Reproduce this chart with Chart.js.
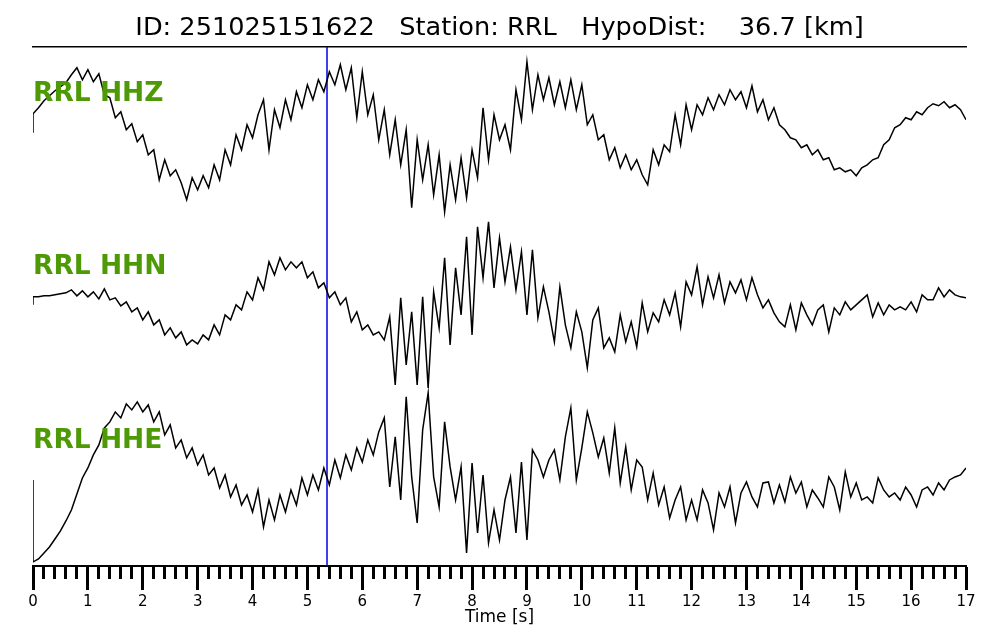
<!DOCTYPE html>
<html>
<head>
<meta charset="utf-8">
<script src="https://cdn.jsdelivr.net/npm/chart.js@4.4.1/dist/chart.umd.min.js"></script>
<style>
  html, body { margin: 0; padding: 0; background: #fff; }
  #wrap { width: 1000px; height: 640px; }
</style>
</head>
<body>
<div id="wrap"><canvas id="seis"></canvas></div>
<script>
// time axis [s], first sample repeated for the step at the trace start
const timeS = [0, 0, 0.1, 0.2, 0.3, 0.4, 0.5, 0.6, 0.7, 0.8, 0.9,
    1.0, 1.1, 1.2, 1.3, 1.4, 1.5, 1.6, 1.7, 1.8, 1.9,
    2.0, 2.1, 2.2, 2.3, 2.4, 2.5, 2.6, 2.7, 2.8, 2.9,
    3.0, 3.1, 3.2, 3.3, 3.4, 3.5, 3.6, 3.7, 3.8, 3.9,
    4.0, 4.1, 4.2, 4.3, 4.4, 4.5, 4.6, 4.7, 4.8, 4.9,
    5.0, 5.1, 5.2, 5.3, 5.4, 5.5, 5.6, 5.7, 5.8, 5.9,
    6.0, 6.1, 6.2, 6.3, 6.4, 6.5, 6.6, 6.7, 6.8, 6.9,
    7.0, 7.1, 7.2, 7.3, 7.4, 7.5, 7.6, 7.7, 7.8, 7.9,
    8.0, 8.1, 8.2, 8.3, 8.4, 8.5, 8.6, 8.7, 8.8, 8.9,
    9.0, 9.1, 9.2, 9.3, 9.4, 9.5, 9.6, 9.7, 9.8, 9.9,
    10.0, 10.1, 10.2, 10.3, 10.4, 10.5, 10.6, 10.7, 10.8, 10.9,
    11.0, 11.1, 11.2, 11.3, 11.4, 11.5, 11.6, 11.7, 11.8, 11.9,
    12.0, 12.1, 12.2, 12.3, 12.4, 12.5, 12.6, 12.7, 12.8, 12.9,
    13.0, 13.1, 13.2, 13.3, 13.4, 13.5, 13.6, 13.7, 13.8, 13.9,
    14.0, 14.1, 14.2, 14.3, 14.4, 14.5, 14.6, 14.7, 14.8, 14.9,
    15.0, 15.1, 15.2, 15.3, 15.4, 15.5, 15.6, 15.7, 15.8, 15.9,
    16.0, 16.1, 16.2, 16.3, 16.4, 16.5, 16.6, 16.7, 16.8, 16.9, 17.0];

// amplitudes (arbitrary counts) per channel
const hhz = [7, 26, 32, 39, 44, 49, 53, 57, 65, 72, 60,
    70, 58, 66, 45, 42, 22, 28, 10, 16, -2,
    5, -15, -10, -40, -20, -36, -30, -43, -60, -38,
    -50, -36, -48, -25, -40, -10, -25, 5, -10, 15,
    2, 25, 40, -10, 30, 12, 40, 20, 48, 32,
    55, 40, 60, 48, 68, 55, 75, 50, 72, 22,
    68, 25, 45, 0, 30, -15, 20, -25, 10, -68,
    0, -40, -5, -55, -15, -72, -25, -60, -18, -58,
    -10, -38, 32, -20, 25, 0, 15, -10, 50, 20,
    78, 30, 65, 40, 62, 35, 58, 32, 60, 30,
    55, 15, 25, 0, 5, -20, -8, -28, -15, -30,
    -20, -35, -45, -10, -25, -5, -12, 25, -5, 35,
    10, 35, 25, 42, 30, 45, 35, 50, 40, 48,
    32, 54, 28, 40, 20, 32, 15, 10, 2, 0,
    -8, -5, -15, -10, -20, -18, -30, -28, -32, -30,
    -36, -28, -25, -20, -18, -5, 0, 12, 15, 22,
    20, 28, 25, 32, 36, 34, 38, 32, 35, 30, 20];

const hhn = [0, 8, 8, 9, 9, 10, 11, 12, 15, 9, 14,
    8, 13, 6, 16, 5, 7, -1, 3, -7, -3,
    -15, -7, -20, -15, -30, -23, -33, -27, -40, -35,
    -39, -30, -35, -20, -30, -10, -15, 0, -5, 13,
    5, 27, 15, 43, 30, 47, 35, 43, 37, 43,
    27, 33, 17, 22, 7, 13, 0, 7, -17, -7,
    -25, -20, -30, -27, -35, -12, -80, 7, -60, -7,
    -80, 8, -83, 13, -23, 47, -40, 37, -10, 68,
    -30, 78, 27, 83, 17, 67, 23, 58, 15, 53,
    -10, 55, -13, 18, -7, -37, 18, -20, -43, -7,
    -27, -63, -15, -3, -43, -33, -47, -10, -37, -17,
    -42, 2, -27, -8, -17, 5, -10, 12, -22, 23,
    10, 38, 0, 28, 7, 30, 2, 23, 12, 25,
    5, 27, 10, -3, 5, -8, -17, -22, 0, -25,
    2, -10, -20, -5, 0, -27, -3, -10, 3, -5,
    0, 5, 10, -12, 2, -10, 0, -5, -2, -5,
    3, -7, 10, 5, 5, 17, 8, 15, 10, 8, 7];

const hhe = [0, -82, -79, -73, -67, -59, -51, -41, -30, -14, 2,
    12, 25, 35, 52, 58, 68, 62, 76, 70, 78,
    68, 75, 58, 68, 45, 55, 32, 40, 22, 32,
    15, 25, 5, 12, -8, 5, -17, -5, -25, -15,
    -32, -10, -47, -20, -40, -15, -32, -10, -25, 2,
    -15, 5, -10, 12, -5, 20, 2, 25, 10, 32,
    18, 40, 25, 48, 62, -7, 43, -20, 83, 3,
    -43, 50, 87, 3, -27, 58, 13, -20, 13, -73,
    17, -53, 5, -63, -30, -60, -20, 3, -53, 18,
    -60, 30, 20, 3, 20, 30, 0, 43, 72, 0,
    32, 68, 47, 23, 42, 7, 52, -3, 33, -10,
    20, 13, -20, 7, -25, -7, -38, -20, -7, -40,
    -20, -40, -10, -23, -50, -13, -27, -7, -43, -13,
    -2, -17, -27, -3, -2, -23, -5, -22, 3, -13,
    -2, -27, -10, -18, -27, 3, -7, -30, 8, -17,
    -3, -20, -17, -23, 2, -10, -17, -13, -20, -7,
    -15, -27, -10, -7, -15, -3, -10, 0, 3, 5, 12];

const channelNames = ['RRL HHZ', 'RRL HHN', 'RRL HHE'];
const pickTime = [5.357];
const titleText = 'ID: 251025151622   Station: RRL   HypoDist:    36.7 [km]';

function toPoints(values) {
    return values.map(function (v, i) {
        return { x: timeS[i], y: v };
    });
}

// green station/channel names written over the traces
const channelLabels = {
    id: 'channelLabels',
    afterDatasetsDraw(chart, args, opts) {
        const ctx = chart.ctx;
        const left = chart.chartArea.left;
        ctx.save();
        ctx.font = 'bold 26.5px "DejaVu Sans"';
        ctx.fillStyle = '#4e9a06';
        ctx.textBaseline = 'alphabetic';
        ctx.textAlign = 'left';
        opts.axes.forEach(function (axisId, k) {
            const y = chart.scales[axisId].getPixelForValue(opts.levels[k]);
            ctx.fillText(channelNames[k], left, y);
        });
        ctx.restore();
    }
};

function traceSet(values, axisId) {
    return {
        data: toPoints(values),
        yAxisID: axisId,
        borderColor: '#000',
        borderWidth: 1.5,
        pointRadius: 0,
        tension: 0,
        fill: false
    };
}

const isWhole = v => Math.abs(v - Math.round(v)) < 1e-6;

const config = {
    type: 'line',
    data: {
        datasets: [
            traceSet(hhz, 'yZ'),
            traceSet(hhn, 'yN'),
            traceSet(hhe, 'yE'),
            {
                data: [{ x: pickTime[0], y: 0 }, { x: pickTime[0], y: 1 }],
                yAxisID: 'yPick',
                borderColor: '#0000ee',
                borderWidth: 1.5,
                pointRadius: 0,
                fill: false
            }
        ]
    },
    options: {
        responsive: false,
        animation: false,
        events: [],
        layout: { padding: { left: 33, right: 34, top: 0, bottom: 0 } },
        scales: {
            x: {
                type: 'linear',
                position: 'bottom',
                min: 0,
                max: 17,
                afterFit: s => { s.height = 74; },
                border: { display: true, color: '#000', width: 2 },
                grid: {
                    display: true,
                    drawOnChartArea: false,
                    drawTicks: true,
                    tickLength: 24,
                    tickWidth: 3,
                    tickColor: '#000',
                    tickBorderDash: c => (c.tick && isWhole(c.tick.value)) ? [] : [12, 60]
                },
                ticks: {
                    stepSize: 0.2,
                    autoSkip: false,
                    maxRotation: 0,
                    padding: 3,
                    color: '#000',
                    font: { family: 'DejaVu Sans', size: 15 },
                    callback: v => isWhole(v) ? String(Math.round(v)) : ''
                },
                title: {
                    display: true,
                    text: 'Time [s]',
                    color: '#000',
                    font: { family: 'DejaVu Sans', size: 17 },
                    padding: { top: 0, bottom: 12 }
                }
            },
            x2: {
                type: 'linear',
                axis: 'x',
                position: 'top',
                min: 0,
                max: 17,
                afterFit: s => { s.height = 0; },
                border: { display: true, color: '#000', width: 1.5 },
                grid: { display: false, drawTicks: false },
                ticks: { display: false }
            },
            yZ: { type: 'linear', axis: 'y', display: false, min: -426, max: 93 },
            yN: { type: 'linear', axis: 'y', display: false, min: -261, max: 258 },
            yE: { type: 'linear', axis: 'y', display: false, min: -86, max: 433 },
            yPick: { type: 'linear', axis: 'y', display: false, min: 0, max: 1 }
        },
        plugins: {
            legend: { display: false },
            tooltip: { enabled: false },
            title: {
                display: true,
                text: titleText,
                color: '#000',
                font: { family: 'DejaVu Sans', size: 25.6, weight: 'normal', lineHeight: 1.2 },
                padding: { top: 13, bottom: 3 }
            },
            channelLabels: {
                axes: ['yZ', 'yN', 'yE'],
                levels: [39, 31, 32]
            }
        }
    },
    plugins: [channelLabels]
};

const canvas = document.getElementById('seis');
canvas.width = 1000;
canvas.height = 640;
new Chart(canvas.getContext('2d'), config);
</script>
</body>
</html>
